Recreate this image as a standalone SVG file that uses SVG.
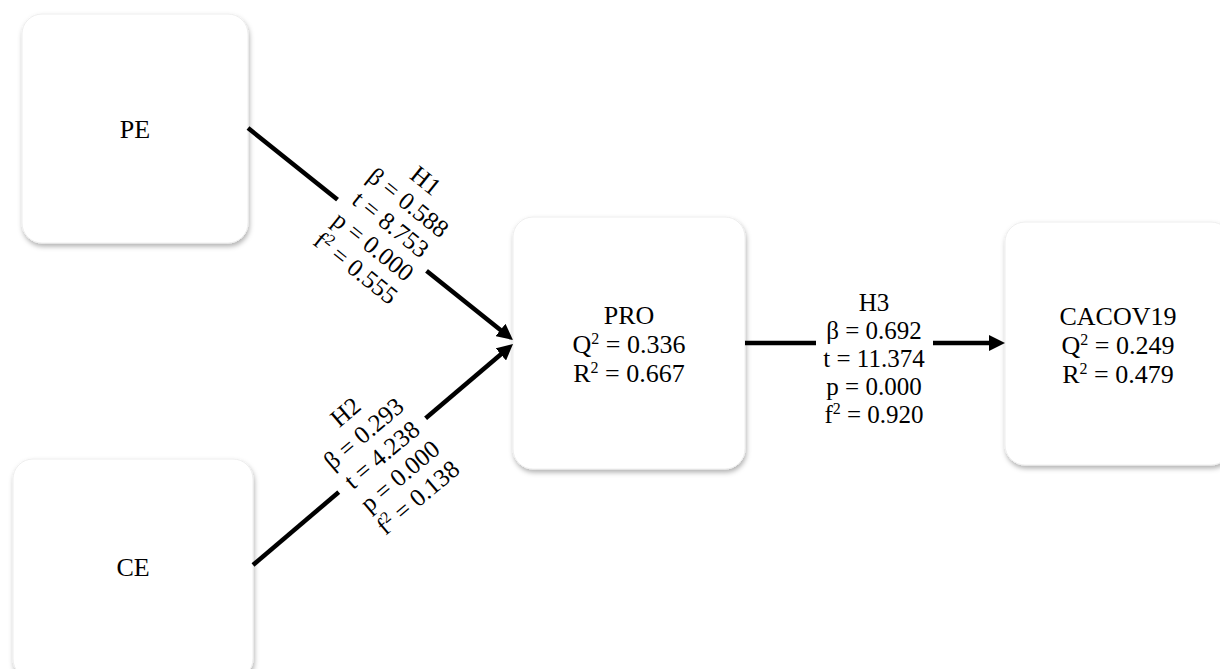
<svg xmlns="http://www.w3.org/2000/svg" width="1220" height="669" viewBox="0 0 1220 669">
<style>
.box{fill:#ffffff;stroke:#eeeeee;stroke-width:1;filter:url(#sh)}
.t{font-family:"Liberation Serif","Times New Roman",serif;font-size:26px;fill:#000;text-anchor:middle}
.l{font-size:25px}
.ln{stroke:#000;stroke-width:4.5;fill:none;marker-end:url(#ah)}
.bg{fill:#ffffff}
</style>
<defs>
<filter id="sh" x="-10%" y="-10%" width="125%" height="125%">
<feDropShadow dx="1" dy="3" stdDeviation="2.5" flood-color="#000" flood-opacity="0.3"/>
</filter>
<marker id="ah" markerUnits="userSpaceOnUse" markerWidth="18" markerHeight="16" refX="4" refY="8" orient="auto">
<path d="M0,0 L16,8 L0,16 z" fill="#000"/>
</marker>
</defs>
<g id="node-PE">
<rect class="box" x="22" y="14" width="226" height="229" rx="20"/>
<text class="t" x="135" y="138">PE</text>
</g>
<g id="node-CE">
<rect class="box" x="13" y="459" width="240" height="220" rx="20"/>
<text class="t" x="133" y="576">CE</text>
</g>
<g id="node-PRO">
<rect class="box" x="513" y="217" width="232" height="252" rx="20"/>
<text class="t" x="629" y="324">PRO</text>
<text class="t" x="629" y="353">Q<tspan font-size="16" dy="-9">2</tspan><tspan dy="9"> = 0.336</tspan></text>
<text class="t" x="629" y="382">R<tspan font-size="16" dy="-9">2</tspan><tspan dy="9"> = 0.667</tspan></text>
</g>
<g id="node-CACOV19">
<rect class="box" x="1005" y="222" width="226" height="243" rx="20"/>
<text class="t" x="1118" y="325">CACOV19</text>
<text class="t" x="1118" y="354">Q<tspan font-size="16" dy="-9">2</tspan><tspan dy="9"> = 0.249</tspan></text>
<text class="t" x="1118" y="383">R<tspan font-size="16" dy="-9">2</tspan><tspan dy="9"> = 0.479</tspan></text>
</g>
<g id="connectors">
<g id="edge-H1">
<line class="ln" x1="248" y1="128" x2="503.6" y2="332.5"/>
<g transform="translate(383,234) rotate(38.7)">
<rect class="bg" x="-57" y="-6" width="114" height="16"/>
<text class="t l" x="0" y="-60">H1</text>
<text class="t l" x="0" y="-32">β = 0.588</text>
<text class="t l" x="0" y="-4">t = 8.753</text>
<text class="t l" x="0" y="24">p = 0.000</text>
<text class="t l" x="0" y="52">f<tspan font-size="16" dy="-9">2</tspan><tspan dy="9"> = 0.555</tspan></text>
</g>
</g>
<g id="edge-H2">
<line class="ln" x1="253" y1="565" x2="503.9" y2="351.8"/>
<g transform="translate(382,455) rotate(-40.3)">
<rect class="bg" x="-57" y="-8" width="114" height="16"/>
<text class="t l" x="0" y="-48">H2</text>
<text class="t l" x="0" y="-20">β = 0.293</text>
<text class="t l" x="0" y="8">t = 4.238</text>
<text class="t l" x="0" y="36">p = 0.000</text>
<text class="t l" x="0" y="64">f<tspan font-size="16" dy="-9">2</tspan><tspan dy="9"> = 0.138</tspan></text>
</g>
</g>
<g id="edge-H3">
<line class="ln" x1="745" y1="343" x2="993" y2="343"/>
<rect class="bg" x="816" y="335" width="117" height="16"/>
<text class="t l" x="874" y="311">H3</text>
<text class="t l" x="874" y="339">β = 0.692</text>
<text class="t l" x="874" y="367">t = 11.374</text>
<text class="t l" x="874" y="395">p = 0.000</text>
<text class="t l" x="874" y="423">f<tspan font-size="16" dy="-9">2</tspan><tspan dy="9"> = 0.920</tspan></text>
</g>
</g>
</svg>
